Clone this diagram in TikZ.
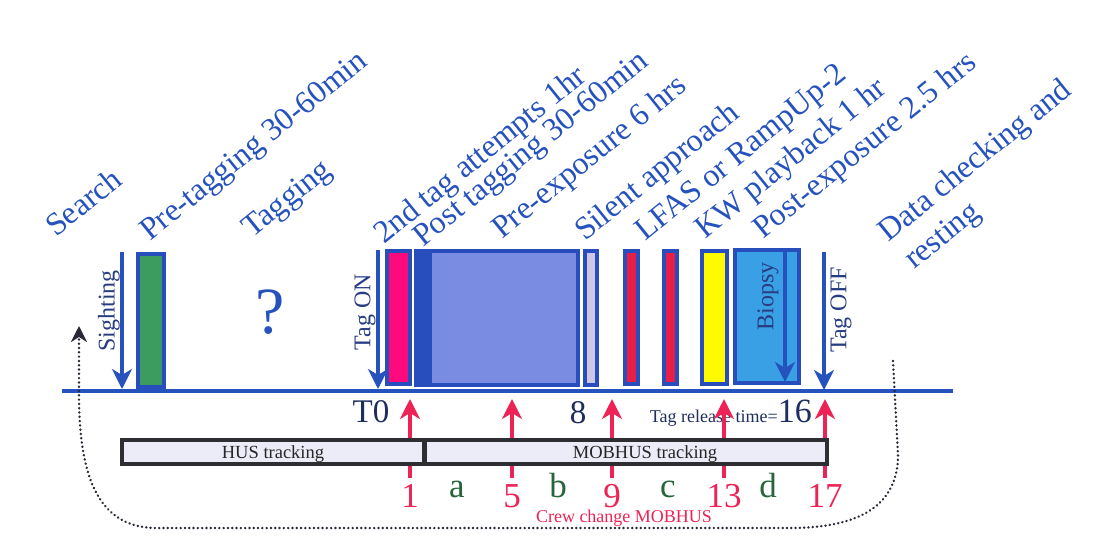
\documentclass[tikz,border=0pt]{standalone}
\usepackage{fontspec}
\setmainfont{Liberation Serif}
\usetikzlibrary{arrows.meta}
\definecolor{tblue}{RGB}{38,82,190}
\definecolor{bord}{RGB}{40,78,190}
\definecolor{navy}{RGB}{30,45,95}
\definecolor{sidec}{RGB}{40,60,130}
\definecolor{pinkc}{RGB}{255,10,125}
\definecolor{peri}{RGB}{122,140,225}
\definecolor{lav}{RGB}{205,198,228}
\definecolor{redbar}{RGB}{232,30,70}
\definecolor{yel}{RGB}{255,250,0}
\definecolor{sky}{RGB}{58,160,230}
\definecolor{grn}{RGB}{60,155,95}
\definecolor{redc}{RGB}{238,35,85}
\definecolor{dgreen}{RGB}{40,100,60}
\definecolor{trackfill}{RGB}{236,236,248}
\definecolor{trackbord}{RGB}{45,45,50}
\definecolor{dotc}{RGB}{40,40,55}
\newcommand\fsz[1]{\fontsize{#1}{#1}\selectfont}
\tikzset{
  phase/.style={font=\fsz{32}, text=tblue, rotate=39, anchor=base west, inner sep=0pt},
  bar/.style={draw=bord, line width=4pt, inner sep=0pt},
  downarrow/.style={draw=tblue, line width=3.5pt, -{Stealth[length=20pt,width=20pt,inset=6pt]}},
  uparrow/.style={draw=redc, line width=4pt, -{Stealth[length=20pt,width=20pt,inset=6pt]}},
  sidelabel/.style={font=\fsz{24}, text=sidec, rotate=90, anchor=center, inner sep=0pt},
  track/.style={draw=trackbord, fill=trackfill, line width=4pt, inner sep=0pt},
  tracktext/.style={font=\fsz{18.5}, text=black!85, anchor=base, inner sep=0pt},
  rednum/.style={font=\fsz{35}, text=redc, anchor=base, inner sep=0pt},
  seglet/.style={font=\fsz{35}, text=dgreen, anchor=base, inner sep=0pt},
  navynum/.style={font=\fsz{33}, text=navy, anchor=base, inner sep=0pt},
  dots/.style={draw=dotc, line width=2.6pt, line cap=round, dash pattern=on 0.1pt off 4.2pt}
}
\begin{document}
\begin{tikzpicture}[x=1pt,y=-1pt]
\useasboundingbox[fill=white] (0,0) rectangle (1109,542);

% phase labels
\node[phase] (l1) at (56,238) {Search};
\node[phase] (l2) at (150,242) {Pre-tagging 30-60min};
\node[phase] (l3) at (252,239) {Tagging};
\node[phase] (l4) at (384,245) {2nd tag attempts 1hr};
\node[phase] (l5) at (423,248) {Post tagging 30-60min};
\node[phase] (l6) at (502,240) {Pre-exposure 6 hrs};
\node[phase] (l7) at (585,242) {Silent approach};
\node[phase] (l8) at (645,242) {LFAS or RampUp-2};
\node[phase] (l9) at (705,240) {KW playback 1 hr};
\node[phase] (l10) at (763,240) {Post-exposure 2.5 hrs};
\node[phase] (l11) at (888,243) {Data checking and};
\node[phase] (l12) at (914,270) {resting};

% phase boxes
\node[bar, fill=grn, minimum width=26pt, minimum height=133pt] (pretag) at (151,320.5) {};
\node[bar, fill=pinkc, minimum width=23pt, minimum height=133pt] (second) at (398.5,317.5) {};
\node[bar, fill=peri, minimum width=162pt, minimum height=134pt] (preexp) at (497,318) {};
\fill[bord] (416,251) rectangle (432,385);
\node[bar, fill=lav, minimum width=12pt, minimum height=134pt] (silent) at (591,318) {};
\node[bar, fill=redbar, minimum width=13pt, minimum height=133pt] (lfas) at (631.5,317.5) {};
\node[bar, fill=redbar, minimum width=13pt, minimum height=133pt] (lfasb) at (670.5,317.5) {};
\node[bar, fill=yel, minimum width=25pt, minimum height=133pt] (kw) at (714.5,317.5) {};
\node[bar, fill=sky, minimum width=64pt, minimum height=133pt] (postexp) at (767,316.5) {};

% timeline
\coordinate (tl0) at (62,391);
\coordinate (tl1) at (953,391);
\draw[tblue, line width=3.5pt] (tl0) -- (tl1);

% blue down arrows
\coordinate (sA) at (122,252); \coordinate (sB) at (122,389);
\coordinate (onA) at (378,250); \coordinate (onB) at (378,389);
\coordinate (bA) at (785,251); \coordinate (bB) at (785,382);
\coordinate (offA) at (824,252); \coordinate (offB) at (824,390);
\draw[downarrow] (sA) -- (sB);
\draw[downarrow] (onA) -- (onB);
\draw[downarrow] (bA) -- (bB);
\draw[downarrow] (offA) -- (offB);
\node[sidelabel] (sighting) at (109,311) {Sighting};
\node[sidelabel] (tagon) at (365,312) {Tag ON};
\node[sidelabel] (biopsy) at (768,296) {Biopsy};
\node[sidelabel] (tagoff) at (841,310) {Tag OFF};
\node[font=\fsz{66}, text=tblue, inner sep=0pt] (q) at (270,312) {?};

% numbers on timeline
\node[navynum] (t0) at (371,422) {T0};
\node[navynum] (eight) at (578,423) {8};
\node[anchor=base east, inner sep=0pt, text=navy] (release) at (812,422) {{\fsz{18}Tag release time=}{\fsz{34}16}};

% red arrows
\foreach \n/\x in {1/410,5/512,9/612,13/724,17/825}{
  \coordinate (r\n a) at (\x,478);
  \coordinate (r\n b) at (\x,399);
  \draw[uparrow] (r\n a) -- (r\n b);
  \node[rednum] (n\n) at (\x,507) {\n};
}

% tracking boxes
\node[track, minimum width=302pt, minimum height=24pt] (hus) at (273,452) {};
\node[track, minimum width=402pt, minimum height=24pt] (mob) at (626,452) {};
\node[tracktext] (hust) at (273,458) {HUS tracking};
\node[tracktext] (mobt) at (645,458) {MOBHUS tracking};

% segment letters
\node[seglet] (sa) at (457,497) {a};
\node[seglet] (sb) at (558,497) {b};
\node[seglet] (sc) at (668,497) {c};
\node[seglet] (sd) at (768,497) {d};

\node[font=\fsz{18}, text=redc, anchor=base, inner sep=0pt] (crew) at (624,522) {Crew change MOBHUS};

% dotted loop
\coordinate (dA) at (893,361);
\coordinate (dB) at (79,326);
\draw[dots, -{Stealth[length=16pt,width=16pt,inset=5pt]}] (dA) -- (898,455) .. controls (898,505) and (860,528) .. (790,528) -- (155,528) .. controls (100,527) and (80,480) .. (79,400) -- (dB);
\end{tikzpicture}
\end{document}
